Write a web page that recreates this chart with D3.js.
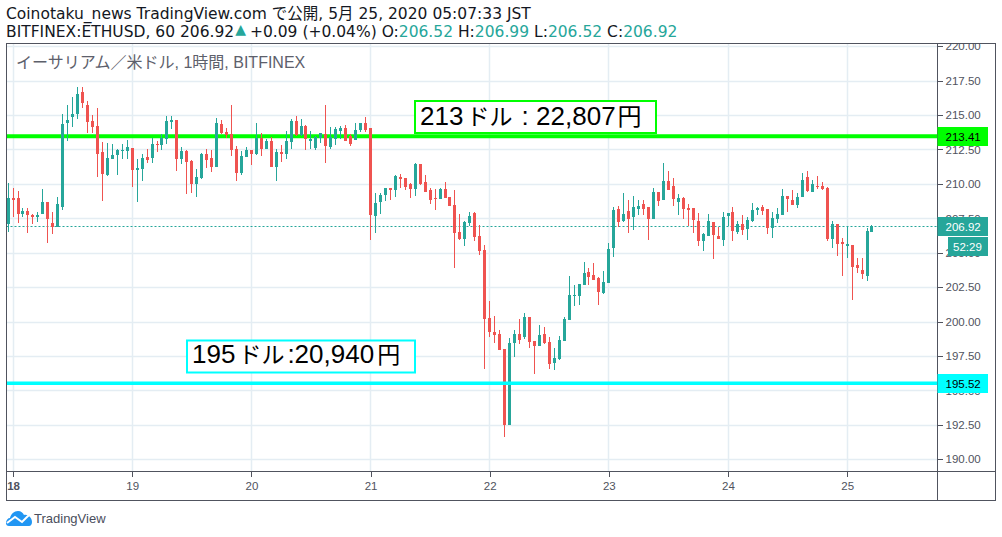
<!DOCTYPE html>
<html lang="ja">
<head>
  <meta charset="UTF-8">
  <title>BITFINEX:ETHUSD, 60</title>
  <script src="https://d3js.org/d3.v7.min.js"></script>
  <style>
    body {
      margin: 0;
      background: #fff;
    }
    svg {
      display: block;
    }
    text {
      font-family: "Liberation Sans", "Noto Sans CJK JP", sans-serif;
    }
    .axis path {
      display: none;
    }
    .axis line {
      stroke: #50535e;
      shape-rendering: crispEdges;
    }
    .axis text {
      font-size: 11.5px;
      fill: #50535e;
    }
    .grid line {
      stroke: #e4edf3;
      stroke-width: 1.5;
    }
    .head {
      font-family: "DejaVu Sans", "Noto Sans CJK JP", sans-serif;
      font-size: 15.5px;
      fill: #131722;
    }
  </style>
</head>
<body>
  <svg id="chart" width="1002" height="537"></svg>

  <script>
    // 1時間足 (i = 0 が 5/17 23:00)
    const firstHour = -1;
    const candleOpen = [
      207.09,209.00,209.00,207.81,208.03,207.74,207.59,207.81,208.68,207.16,
      206.89,208.32,214.42,214.86,215.07,216.67,215.73,214.57,214.20,212.31,
      210.64,211.81,212.10,212.39,212.39,212.61,211.01,211.09,211.96,211.88,
      212.90,212.83,213.26,214.50,214.64,211.81,212.39,211.67,210.00,210.43,
      212.18,211.88,211.23,214.35,213.77,213.63,212.54,210.80,211.96,212.47,
      212.18,213.34,212.54,213.12,211.23,212.32,212.18,213.05,214.57,213.56,
      214.21,213.12,212.61,213.34,213.63,212.68,213.26,213.85,214.06,213.48,
      213.19,213.92,214.43,214.06,207.67,208.69,209.19,209.70,209.56,210.50,
      210.43,209.99,209.63,211.45,210.14,209.56,208.98,208.90,209.63,209.05,
      208.47,206.51,206.00,207.16,207.89,206.22,205.20,200.26,199.25,199.10,
      198.01,192.49,198.45,199.10,198.88,200.34,198.59,198.23,199.10,198.52,
      197.00,197.29,198.59,200.12,201.86,201.86,202.66,203.60,203.39,203.17,
      202.08,202.80,205.34,208.18,207.30,208.03,207.59,208.18,208.54,208.32,
      207.45,209.41,208.83,210.21,209.85,208.68,208.97,208.25,208.25,207.30,
      205.85,206.21,207.23,206.21,205.92,207.67,207.96,206.51,207.09,206.72,
      207.30,208.10,208.32,208.18,206.80,207.45,207.74,209.12,208.83,208.47,
      209.05,210.50,209.41,209.85,209.85,209.70,206.00,207.09,205.78,205.49,
      205.56,204.11,203.75,203.31,206.52
    ];
    const candleHigh = [
      210.09,209.72,209.48,208.25,208.25,207.81,207.96,209.63,208.68,207.96,
      209.05,215.07,215.73,216.31,217.03,217.03,216.02,215.00,215.51,213.04,
      212.97,212.90,212.53,212.90,213.19,212.61,211.81,212.18,212.54,213.34,
      213.12,213.63,214.93,214.93,214.64,212.68,212.47,211.74,211.09,212.25,
      212.54,212.47,214.79,214.64,214.06,215.73,212.76,212.39,212.68,212.47,
      214.43,213.70,213.26,213.41,212.54,212.83,213.85,214.72,214.93,214.72,
      214.28,213.85,213.48,213.70,215.73,214.14,214.14,214.21,214.28,213.63,
      214.43,214.43,214.86,214.06,209.34,209.34,209.70,209.70,210.65,210.72,
      210.43,210.07,211.52,211.45,210.65,209.70,209.63,209.70,210.14,209.05,
      209.56,207.81,207.31,207.96,207.96,207.02,205.56,201.50,200.41,199.39,
      198.01,198.81,199.39,200.19,200.63,200.34,198.59,199.75,199.61,198.88,
      198.08,198.96,200.34,203.31,202.66,202.73,204.33,203.89,204.26,203.24,
      203.68,205.71,208.32,208.39,209.34,208.83,209.12,208.83,208.83,208.32,
      209.70,209.41,211.52,210.93,210.43,209.26,209.05,208.54,208.25,207.88,
      206.43,207.81,207.23,206.87,207.96,207.88,208.32,207.30,207.74,207.59,
      208.61,208.32,208.47,208.18,207.96,208.25,209.63,209.12,209.56,209.34,
      210.79,210.93,210.28,210.57,210.14,209.77,207.30,207.09,206.07,206.94,
      205.56,204.62,204.62,206.80,206.99
    ];
    const candleLow = [
      206.53,207.62,207.18,207.62,206.46,207.11,207.26,207.81,205.73,206.36,
      206.89,208.10,213.11,214.13,214.71,215.51,213.69,213.69,210.50,208.76,
      210.57,211.81,210.64,211.81,211.81,209.78,208.69,210.21,211.52,211.52,
      212.32,212.47,212.90,213.99,210.94,211.45,209.27,209.34,209.05,210.36,
      211.16,210.87,211.23,213.63,213.34,212.03,210.21,210.65,211.96,211.38,
      212.10,212.03,212.54,211.23,210.21,211.59,211.81,212.54,213.48,213.48,
      212.47,212.54,212.47,212.97,211.52,212.54,212.83,213.26,213.12,212.76,
      213.19,213.77,213.77,205.93,206.44,207.81,208.76,208.83,209.05,209.70,
      209.56,208.98,209.12,209.92,209.41,208.54,208.11,208.90,208.98,208.40,
      203.89,205.93,205.49,206.94,205.85,204.84,196.56,198.88,198.45,197.94,
      191.62,192.49,197.43,198.37,198.74,198.08,196.20,198.23,198.37,196.56,
      196.49,197.21,198.59,200.12,201.13,201.21,202.66,202.66,203.02,201.21,
      202.01,202.80,204.69,206.87,207.23,206.43,206.65,207.74,207.74,205.92,
      207.45,208.39,208.83,209.56,208.39,207.74,207.45,206.94,206.43,205.49,
      205.13,206.21,204.54,206.00,205.49,206.94,205.85,206.36,206.29,205.92,
      207.23,207.74,207.74,206.36,206.07,207.16,207.74,207.96,208.47,208.25,
      209.05,209.41,209.41,209.63,209.56,205.85,205.34,204.76,203.31,204.62,
      201.57,203.53,203.09,202.95,206.52
    ];
    const candleClose = [
      209.00,208.83,207.81,208.03,207.74,207.59,207.74,208.68,207.45,206.89,
      208.54,214.35,214.64,215.07,216.53,215.87,214.49,214.13,212.17,210.72,
      211.88,212.10,212.46,212.46,212.68,211.01,211.16,211.88,211.74,212.90,
      212.83,213.34,214.57,214.64,211.81,212.39,211.59,210.00,210.51,212.18,
      211.74,211.23,214.43,213.70,213.56,212.47,210.80,212.03,212.47,212.18,
      213.34,212.54,213.12,211.23,212.32,212.18,213.12,214.57,213.56,214.21,
      213.26,213.26,213.41,213.70,212.76,213.41,213.99,214.06,213.12,212.90,
      213.92,214.43,213.92,207.74,208.61,209.19,209.70,209.56,210.57,210.36,
      209.78,209.63,211.45,209.99,209.41,208.83,208.90,209.63,208.98,208.40,
      206.44,206.00,207.23,207.67,206.14,205.13,200.19,199.25,199.03,197.94,
      192.49,198.45,199.10,198.67,200.34,198.52,198.23,199.03,198.45,196.92,
      197.36,198.67,200.19,201.93,201.93,202.73,203.53,203.24,203.02,202.15,
      202.88,205.27,208.10,207.23,207.81,207.45,208.32,208.39,208.18,207.45,
      209.41,208.76,210.21,209.56,208.90,208.97,208.18,208.10,207.38,205.85,
      206.36,207.30,206.29,206.00,207.59,207.88,206.58,207.09,206.65,207.38,
      208.10,208.25,208.03,206.80,207.52,207.81,209.12,208.90,208.47,209.05,
      210.28,209.48,209.99,209.77,209.63,206.00,207.09,205.63,205.63,205.63,
      203.96,203.89,203.45,206.58,206.92
    ];

    const priceTicks = [190, 192.5, 195, 197.5, 200, 202.5, 205, 207.5, 210, 212.5, 215, 217.5, 220];
    const dayHours = [0, 24, 48, 72, 96, 120, 144, 168];
    const dayLabels = ["18", "19", "20", "21", "22", "23", "24", "25"];

    const lastPrice = 206.92;
    const countdown = "52:29";
    const upperLevel = 213.41;
    const lowerLevel = 195.52;

    const green = "#26a69a";
    const red = "#ef5350";
    const frameColor = "#50535e";

    // 枠のサイズ
    const frameLeft = 6.5, frameTop = 43.5, paneRight = 937.5, paneBottom = 471.5, frameRight = 995.5, frameBottom = 500.5;

    const svg = d3.select("#chart");

    const x = d3.scaleLinear().domain([0, 168]).range([13.05, 847.17]);
    const y = d3.scaleLinear().domain([190, 220]).range([459.3, 46.2]);
    const snapX = h => Math.floor(x(h));

    svg.append("defs").append("clipPath").attr("id", "axisClip")
      .append("rect").attr("x", 0).attr("y", frameTop).attr("width", frameRight - paneRight).attr("height", paneBottom - frameTop);

    // グリッド
    const grid = svg.append("g").attr("class", "grid");
    grid.selectAll(".h").data(priceTicks).join("line")
      .attr("class", "h")
      .attr("x1", frameLeft).attr("x2", paneRight)
      .attr("y1", d => Math.round(y(d)) + 0.5).attr("y2", d => Math.round(y(d)) + 0.5);
    grid.selectAll(".v").data(dayHours).join("line")
      .attr("class", "v")
      .attr("x1", d => snapX(d) + 0.5).attr("x2", d => snapX(d) + 0.5)
      .attr("y1", frameTop).attr("y2", paneBottom);

    // 現在値の点線
    svg.append("line")
      .attr("x1", frameLeft).attr("x2", paneRight)
      .attr("y1", Math.round(y(lastPrice)) + 0.5).attr("y2", Math.round(y(lastPrice)) + 0.5)
      .attr("stroke", green).attr("stroke-dasharray", "2,2");

    // 水平線(緑はローソク足の下、水色は上)
    svg.append("line")
      .attr("x1", frameLeft).attr("x2", paneRight)
      .attr("y1", y(upperLevel) - 0.7).attr("y2", y(upperLevel) - 0.7)
      .attr("stroke", "#00ff00").attr("stroke-width", 4);

    // ローソク足
    const candles = d3.range(candleOpen.length).map(i => ({
      hour: i + firstHour,
      open: candleOpen[i], high: candleHigh[i], low: candleLow[i], close: candleClose[i]
    }));
    const candleG = svg.append("g").selectAll("g").data(candles).join("g")
      .attr("fill", d => d.close >= d.open ? green : red)
      .attr("shape-rendering", "crispEdges");
    candleG.append("rect")
      .attr("x", d => snapX(d.hour))
      .attr("y", d => y(d.high))
      .attr("width", 1)
      .attr("height", d => y(d.low) - y(d.high));
    candleG.append("rect")
      .attr("x", d => snapX(d.hour) - 1)
      .attr("y", d => y(Math.max(d.open, d.close)))
      .attr("width", 3)
      .attr("height", d => Math.max(1, Math.abs(y(d.open) - y(d.close))));

    svg.append("line")
      .attr("x1", frameLeft).attr("x2", paneRight)
      .attr("y1", y(lowerLevel)).attr("y2", y(lowerLevel))
      .attr("stroke", "#00ffff").attr("stroke-width", 3.5);

    // メモの枠
    svg.append("rect")
      .attr("x", 415).attr("y", 101).attr("width", 241).attr("height", 32)
      .attr("fill", "#fff").attr("stroke", "#00ff00").attr("stroke-width", 2);
    const note1 = svg.append("text").attr("x", 420).attr("y", 125).attr("font-size", 26).attr("fill", "#000");
    note1.append("tspan").text("213");
    note1.append("tspan").attr("font-size", 23).attr("dx", 3).text("ドル");
    note1.append("tspan").attr("dx", 2).text(" : 22,807");
    note1.append("tspan").attr("font-size", 24).attr("dx", 2).text("円");

    svg.append("rect")
      .attr("x", 187).attr("y", 340.5).attr("width", 228).attr("height", 32)
      .attr("fill", "#fff").attr("stroke", "#00ffff").attr("stroke-width", 2);
    const note2 = svg.append("text").attr("x", 192).attr("y", 363).attr("font-size", 26).attr("fill", "#000");
    note2.append("tspan").text("195");
    note2.append("tspan").attr("font-size", 23).attr("dx", 3).text("ドル");
    note2.append("tspan").attr("dx", 3).text(":20,940");
    note2.append("tspan").attr("font-size", 23).attr("dx", 3).text("円");

    // 軸
    svg.append("g").attr("class", "axis").attr("clip-path", "url(#axisClip)")
      .attr("transform", `translate(${paneRight},0)`)
      .call(d3.axisRight(y).tickValues(priceTicks).tickFormat(d3.format(".2f")).tickSize(5).tickPadding(3));
    const xAxis = svg.append("g").attr("class", "axis")
      .attr("transform", `translate(0,${paneBottom})`)
      .call(d3.axisBottom(x).tickValues(dayHours).tickFormat((d, i) => dayLabels[i]).tickSize(5).tickPadding(5));
    xAxis.selectAll("text").filter((d, i) => i === 0).attr("font-weight", "bold");

    // 枠線
    const frame = svg.append("g").attr("stroke", frameColor).attr("fill", "none").attr("shape-rendering", "crispEdges");
    frame.append("rect").attr("x", frameLeft).attr("y", frameTop).attr("width", frameRight - frameLeft).attr("height", frameBottom - frameTop);
    frame.append("line").attr("x1", frameLeft).attr("x2", frameRight).attr("y1", paneBottom).attr("y2", paneBottom);
    frame.append("line").attr("x1", paneRight).attr("x2", paneRight).attr("y1", frameTop).attr("y2", frameBottom);

    // 価格ラベル
    function priceLabel(cy, text, bg, fg, bx) {
      svg.append("rect").attr("x", bx).attr("y", cy - 9.5).attr("width", 988 - bx).attr("height", 19).attr("fill", bg);
      svg.append("text").attr("x", bx === paneRight ? 945.5 : 953).attr("y", cy + 4)
        .attr("font-size", 11.5).attr("fill", fg).text(text);
    }
    priceLabel(136.5, d3.format(".2f")(upperLevel), "#00ff00", "#000", paneRight);
    priceLabel(226.5, d3.format(".2f")(lastPrice), green, "#fff", paneRight);
    priceLabel(246.5, countdown, green, "#fff", 948);
    priceLabel(383.5, d3.format(".2f")(lowerLevel), "#00ffff", "#000", paneRight);

    // タイトル
    svg.append("text").attr("class", "head").attr("x", 6).attr("y", 19)
      .text("Coinotaku_news TradingView.com で公開, 5月 25, 2020 05:07:33 JST");
    const sub = svg.append("text").attr("class", "head").attr("x", 6).attr("y", 37);
    sub.append("tspan").text("BITFINEX:ETHUSD, 60 206.92");
    sub.append("tspan").attr("fill", green).attr("font-size", 14).attr("dx", 1).attr("dy", -3).text("▲");
    sub.append("tspan").attr("dx", 4).attr("dy", 3).text("+0.09 (+0.04%) O:");
    sub.append("tspan").attr("fill", green).text("206.52");
    sub.append("tspan").text(" H:");
    sub.append("tspan").attr("fill", green).text("206.99");
    sub.append("tspan").text(" L:");
    sub.append("tspan").attr("fill", green).text("206.52");
    sub.append("tspan").text(" C:");
    sub.append("tspan").attr("fill", green).text("206.92");

    svg.append("text").attr("x", 16).attr("y", 68).attr("font-size", 16).attr("fill", "#5d606b")
      .text("イーサリアム／米ドル, 1時間, BITFINEX");

    // TradingView ロゴ
    const logo = svg.append("g").attr("transform", "translate(6,510)");
    logo.append("path").attr("fill", "#2196f3")
      .attr("d", "M0 13 C0 10 2 8 4 8 C5 4 8 1 12 1 C15 1 17 3 18 5 C22 4 26 8 26 12 C26 14 25 16 23 16 L3 16 C1 16 0 15 0 13 Z");
    logo.append("path").attr("fill", "none").attr("stroke", "#fff").attr("stroke-width", 2)
      .attr("d", "M1 13 L9 7 L16 12 L23 5");
    svg.append("text").attr("x", 34).attr("y", 523).attr("font-size", 13).attr("fill", "#4a4e5c").text("TradingView");
  </script>
</body>
</html>
